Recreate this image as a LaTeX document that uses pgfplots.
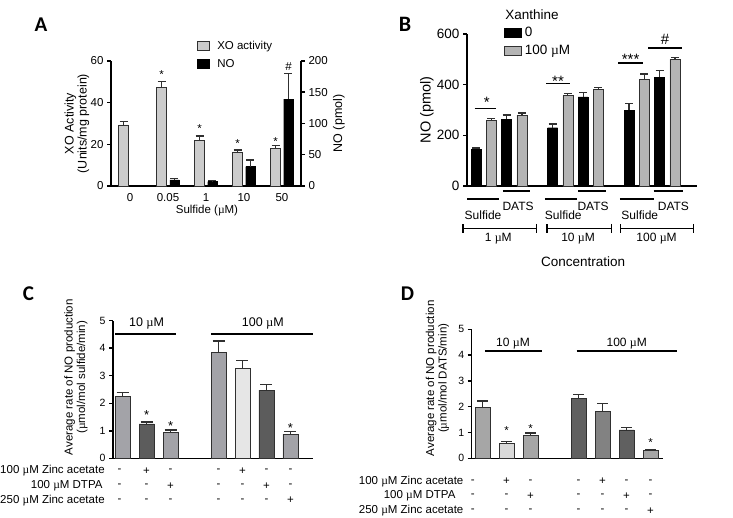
\documentclass[border=0pt]{standalone}
\usepackage{fontspec}
\setmainfont{Liberation Sans}
\usepackage{pgfplots}
\pgfplotsset{compat=1.18}
\usetikzlibrary{arrows.meta}
\newfontfamily\lett{Carlito}
\newfontfamily\muf{Liberation Serif}
\newcommand{\uM}{{\muf µ}M}
\newcommand{\sA}{\fontsize{11.5}{13}\selectfont}
\newcommand{\sB}{\fontsize{13.5}{15}\selectfont}
\newcommand{\sBs}{\fontsize{12}{14}\selectfont}
\newcommand{\sC}{\fontsize{10.5}{12}\selectfont}
\newcommand{\sCr}{\fontsize{11.5}{13}\selectfont}
\newcommand{\rl}{\fontsize{11.5}{12.5}\selectfont}
\newcommand{\rlA}{\fontsize{12.5}{13}\selectfont}
\definecolor{xog}{HTML}{CCCCCC}
\definecolor{bgr}{HTML}{B4B4B4}
\definecolor{cmed}{HTML}{A3A3A8}
\definecolor{cdark}{HTML}{5C5C5C}
\definecolor{clight}{HTML}{E6E6E6}
\definecolor{dmed}{HTML}{A6A6A6}
\definecolor{dlight}{HTML}{D9D9D9}
\definecolor{ddark}{HTML}{606060}
\definecolor{dgray}{HTML}{828282}
\definecolor{edge}{HTML}{303030}
\tikzset{st/.style={inner sep=0pt, anchor=center}, sg/.style={font=\sCr}}
\pgfplotsset{
  panel/.style={scale only axis, anchor=south west, clip=false,
    axis x line*=bottom, axis y line*=left,
    axis line style={line width=1.5pt,black,-},
    tick align=outside, major tick length=4pt,
    tick style={line width=1.5pt,black},
    major x tick style={draw=none},
    /pgf/number format/assume math mode=true},
  eb/.style={/pgfplots/error bars/y dir=plus, /pgfplots/error bars/y explicit,
    /pgfplots/error bars/error bar style={line width=1.2pt,edge},
    /pgfplots/error bars/error mark options={rotate=90,line width=1.2pt,edge,mark size=#1}},
}
\begin{document}
\begin{tikzpicture}[x=1pt,y=1pt]
\useasboundingbox (0pt,0pt) rectangle (733pt,517pt);
% ---------------- Panel letters
\node[font=\lett\bfseries\fontsize{21}{21}\selectfont] at (41pt,492pt) {A};
\node[font=\lett\bfseries\fontsize{22}{22}\selectfont] at (405pt,492.5pt) {B};
\node[font=\lett\bfseries\fontsize{21}{21}\selectfont] at (28.5pt,223pt) {C};
\node[font=\lett\bfseries\fontsize{21}{21}\selectfont] at (407.5pt,223pt) {D};

% ---------------- Panel A, left axis (XO activity)
\begin{axis}[panel, at={(111pt,331pt)}, width=190pt, height=125pt,
  xmin=-0.5, xmax=4.5, ymin=0, ymax=60, ytick={0,20,40,60},
  xtick={0,1,2,3,4}, xticklabels={0,0.05,1,10,50},
  tick label style={font=\sA},
  xlabel={Sulfide (\uM)}, xlabel style={font=\sA, at={(axis description cs:0.505,-0.2)}, anchor=center},
  ylabel={XO Activity\\(Units/mg protein)},
  ylabel style={font=\rlA, align=center, at={(axis description cs:-0.18,0.5)}, anchor=center}]
\addplot[ybar, bar width=9.5pt, fill=xog, draw=edge, line width=0.6pt, eb=4pt] coordinates {
 (-0.171,29.3) +- (0,1.5)
 (0.829,47.3) +- (0,3.0)
 (1.829,22.0) +- (0,2.0)
 (2.829,16.4) +- (0,0.9)
 (3.829,18.1) +- (0,1.3)
};
\node[st, font=\sA] at (axis cs:0.829,53.4) {*};
\node[st, font=\sA] at (axis cs:1.829,27.4) {*};
\node[st, font=\sA] at (axis cs:2.829,20.6) {*};
\node[st, font=\sA] at (axis cs:3.829,21.4) {*};
\end{axis}
% ---------------- Panel A, right axis (NO)
\begin{axis}[panel, at={(111pt,331pt)}, width=190pt, height=125pt,
  xmin=-0.5, xmax=4.5, ymin=0, ymax=200, ytick={0,50,100,150,200},
  axis x line=none, axis y line*=right,
  tick label style={font=\sA},
  ylabel={NO (pmol)},
  ylabel style={font=\rlA, at={(axis description cs:1.2,0.5)}, anchor=center},
  legend style={at={(0.45,1.177)}, anchor=north west, draw=none, fill=none,
    font=\sA, row sep=4.5pt, inner sep=0pt}, legend cell align=left]
\addlegendimage{legend image code/.code={\draw[fill=xog,draw=edge,line width=0.6pt] (0pt,-4.5pt) rectangle (12pt,4.5pt);}}
\addlegendentry{\hspace{6pt}XO activity}
\addlegendimage{legend image code/.code={\draw[fill=black,draw=black] (0pt,-4.5pt) rectangle (12pt,4.5pt);}}
\addlegendentry{\hspace{6pt}NO}
\addplot[ybar, bar width=9.5pt, fill=black, draw=black, eb=4pt, forget plot] coordinates {
 (1.171,9.6) +- (0,2.7)
 (2.171,6.9) +- (0,2.2)
 (3.171,30.9) +- (0,10.7)
 (4.171,139) +- (0,41)
};
\node[st, font=\sA] at (axis cs:4.171,191) {\#};
\end{axis}

% ---------------- Panel B
\begin{axis}[panel, at={(467pt,331pt)}, width=230pt, height=152pt,
  xmin=-0.59, xmax=14.44, ymin=0, ymax=600, ytick={0,200,400,600},
  xtick=\empty, tick label style={font=\sB},
  ylabel={NO (pmol)},
  ylabel style={font=\fontsize{14.5}{16}\selectfont, at={(axis description cs:-0.174,0.5)}, anchor=center},
  legend style={at={(0.161,1.057)}, anchor=north west, draw=none, fill=none,
    font=\sB, row sep=3pt, inner sep=0pt}, legend cell align=left]
\addlegendimage{legend image code/.code={\draw[fill=black,draw=black] (0pt,-4.5pt) rectangle (17pt,4.5pt);}}
\addlegendentry{\hspace{1pt}0}
\addlegendimage{legend image code/.code={\draw[fill=bgr,draw=edge,line width=0.6pt] (0pt,-4.5pt) rectangle (17pt,4.5pt);}}
\addlegendentry{\hspace{1pt}100 \uM}
\addplot[ybar, bar width=10pt, fill=black, draw=black, eb=4pt, forget plot] coordinates {
 (0,146) +- (0,4)
 (2,263) +- (0,17)
 (5,230) +- (0,15)
 (7,352) +- (0,16)
 (10,300) +- (0,25)
 (12,430) +- (0,25)
};
\addplot[ybar, bar width=10pt, fill=bgr, draw=edge, line width=0.6pt, eb=4pt, forget plot] coordinates {
 (1,258) +- (0,10)
 (3,280) +- (0,8)
 (6,357) +- (0,8)
 (8,380) +- (0,8)
 (11,422) +- (0,20)
 (13,500) +- (0,7)
};
\node[anchor=west, font=\sB] at (axis description cs:0.151,1.125) {Xanthine};
% significance
\draw[line width=1.5pt] (axis cs:-0.1,306) -- (axis cs:1.3,306);
\draw[line width=1.5pt] (axis cs:4.6,405) -- (axis cs:6.15,405);
\draw[line width=1.5pt] (axis cs:9.3,485) -- (axis cs:10.9,485);
\draw[line width=1.5pt] (axis cs:11.25,544) -- (axis cs:13.45,544);
\node[st, font=\fontsize{15}{16}\selectfont] at (axis cs:0.7,329) {*};
\node[st, font=\fontsize{15}{16}\selectfont] at (axis cs:5.36,415) {**};
\node[st, font=\fontsize{15}{16}\selectfont] at (axis cs:10.1,501) {***};
\node[st, font=\fontsize{15}{16}\selectfont] at (axis cs:12.35,579) {\#};
% group labels under the axis
\draw[line width=1.3pt] (axis cs:-0.59,-51.3) -- (axis cs:1.5,-51.3);
\draw[line width=1.3pt] (axis cs:4.5,-51.3) -- (axis cs:6.6,-51.3);
\draw[line width=1.3pt] (axis cs:9.4,-51.3) -- (axis cs:11.6,-51.3);
\draw[line width=1.3pt] (axis cs:1.76,-19.7) -- (axis cs:3.5,-19.7);
\draw[line width=1.3pt] (axis cs:6.67,-19.7) -- (axis cs:8.5,-19.7);
\draw[line width=1.3pt] (axis cs:11.6,-19.7) -- (axis cs:13.5,-19.7);
\node[font=\sBs] at (axis cs:0.46,-114.5) {Sulfide};
\node[font=\sBs] at (axis cs:5.7,-114.5) {Sulfide};
\node[font=\sBs] at (axis cs:10.7,-114.5) {Sulfide};
\node[font=\sBs] at (axis cs:2.75,-81.7) {DATS};
\node[font=\sBs] at (axis cs:7.65,-81.7) {DATS};
\node[font=\sBs] at (axis cs:12.9,-81.7) {DATS};
\draw[line width=1.5pt, {Bar[width=9pt]}-{Bar[width=9pt]}] (axis cs:-0.9,-167) -- (axis cs:4.0,-167);
\draw[line width=1.5pt, {Bar[width=9pt]}-{Bar[width=9pt]}] (axis cs:4.6,-167) -- (axis cs:8.9,-167);
\draw[line width=1.5pt, {Bar[width=9pt]}-{Bar[width=9pt]}] (axis cs:9.4,-167) -- (axis cs:14.25,-167);
\node[font=\sBs] at (axis cs:1.45,-209) {1 \uM};
\node[font=\sBs] at (axis cs:6.67,-209) {10 \uM};
\node[font=\sBs] at (axis cs:11.8,-209) {100 \uM};
\node[font=\sB] at (axis cs:7.0,-299) {Concentration};
\end{axis}

% ---------------- Panel C
\begin{axis}[panel, at={(113pt,58.7pt)}, width=200pt, height=137.6pt,
  xmin=-0.4, xmax=7.94, ymin=0, ymax=5, ytick={0,1,2,3,4,5},
  xtick=\empty, tick label style={font=\sC},
  ylabel={Average rate of NO production\\({\muf µ}mol/mol sulfide/min)},
  ylabel style={font=\rl, align=center, at={(axis description cs:-0.185,0.59)}, anchor=center}]
\addplot[ybar, bar width=15pt, fill=cmed, draw=edge, line width=0.7pt, eb=6pt] coordinates {
 (0,2.24) +- (0,0.14)
 (2,0.95) +- (0,0.08)
 (4,3.85) +- (0,0.41)
 (7,0.88) +- (0,0.1)
};
\addplot[ybar, bar width=15pt, fill=cdark, draw=edge, line width=0.7pt, eb=6pt] coordinates {
 (1,1.25) +- (0,0.07)
 (6,2.48) +- (0,0.21)
};
\addplot[ybar, bar width=15pt, fill=clight, draw=edge, line width=0.7pt, eb=6pt] coordinates {
 (5,3.26) +- (0,0.28)
};
\draw[line width=1.5pt] (axis cs:-0.31,4.52) -- (axis cs:2.23,4.52);
\draw[line width=1.5pt] (axis cs:3.7,4.52) -- (axis cs:7.94,4.52);
\node[font=\fontsize{12.5}{14}\selectfont] at (axis cs:1.0,4.9) {10 \uM};
\node[font=\fontsize{12.5}{14}\selectfont] at (axis cs:5.85,4.9) {100 \uM};
\node[st, font=\fontsize{13}{14}\selectfont] at (axis cs:1,1.56) {*};
\node[st, font=\fontsize{13}{14}\selectfont] at (axis cs:2,1.19) {*};
\node[st, font=\fontsize{13}{14}\selectfont] at (axis cs:7,1.11) {*};
\node[anchor=east, font=\sCr] at (axis cs:-0.6,-0.45) {100 \uM{} Zinc acetate};
\node[anchor=east, font=\sCr] at (axis cs:-0.69,-1.0) {100 \uM{} DTPA};
\node[anchor=east, font=\sCr] at (axis cs:-0.6,-1.53) {250 \uM{} Zinc acetate};
% row 1
\node[sg] at (axis cs:-0.13,-0.45) {-}; \node[sg] at (axis cs:1,-0.45) {+};
\node[sg] at (axis cs:2,-0.45) {-};    \node[sg] at (axis cs:4,-0.45) {-};
\node[sg] at (axis cs:5,-0.45) {+};    \node[sg] at (axis cs:6,-0.45) {-};
\node[sg] at (axis cs:7,-0.45) {-};
% row 2
\node[sg] at (axis cs:-0.13,-1.0) {-}; \node[sg] at (axis cs:1,-1.0) {-};
\node[sg] at (axis cs:2,-1.0) {+};    \node[sg] at (axis cs:4,-1.0) {-};
\node[sg] at (axis cs:5,-1.0) {-};    \node[sg] at (axis cs:6,-1.0) {+};
\node[sg] at (axis cs:7,-1.0) {-};
% row 3
\node[sg] at (axis cs:-0.13,-1.53) {-}; \node[sg] at (axis cs:1,-1.53) {-};
\node[sg] at (axis cs:2,-1.53) {-};    \node[sg] at (axis cs:4,-1.53) {-};
\node[sg] at (axis cs:5,-1.53) {-};    \node[sg] at (axis cs:6,-1.53) {-};
\node[sg] at (axis cs:7,-1.53) {+};
\end{axis}

% ---------------- Panel D
\begin{axis}[panel, at={(471.7pt,58.7pt)}, width=191.3pt, height=129pt,
  xmin=-0.45, xmax=7.52, ymin=0, ymax=5, ytick={0,1,2,3,4,5},
  xtick=\empty, tick label style={font=\sC},
  ylabel={Average rate of NO production\\({\muf µ}mol/mol DATS/min)},
  ylabel style={font=\rl, align=center, at={(axis description cs:-0.179,0.62)}, anchor=center}]
\addplot[ybar, bar width=15pt, fill=dmed, draw=edge, line width=0.7pt, eb=5.5pt] coordinates {
 (0,1.98) +- (0,0.24)
 (2,0.88) +- (0,0.1)
 (7,0.3) +- (0,0.05)
};
\addplot[ybar, bar width=15pt, fill=dlight, draw=edge, line width=0.7pt, eb=5.5pt] coordinates {
 (1,0.58) +- (0,0.06)
};
\addplot[ybar, bar width=15pt, fill=ddark, draw=edge, line width=0.7pt, eb=5.5pt] coordinates {
 (4,2.33) +- (0,0.14)
 (6,1.1) +- (0,0.09)
};
\addplot[ybar, bar width=15pt, fill=dgray, draw=edge, line width=0.7pt, eb=5.5pt] coordinates {
 (5,1.83) +- (0,0.29)
};
\draw[line width=1.5pt] (axis cs:0.1,4.15) -- (axis cs:2.47,4.15);
\draw[line width=1.5pt] (axis cs:3.92,4.15) -- (axis cs:8.09,4.15);
\node[font=\fontsize{12}{14}\selectfont] at (axis cs:1.27,4.46) {10 \uM};
\node[font=\fontsize{12}{14}\selectfont] at (axis cs:6.01,4.46) {100 \uM};
\node[st, font=\fontsize{11.5}{13}\selectfont] at (axis cs:1,1.08) {*};
\node[st, font=\fontsize{11.5}{13}\selectfont] at (axis cs:2,1.15) {*};
\node[st, font=\fontsize{11.5}{13}\selectfont] at (axis cs:7,0.63) {*};
\node[anchor=east, font=\sCr] at (axis cs:-0.65,-0.9) {100 \uM{} Zinc acetate};
\node[anchor=east, font=\sCr] at (axis cs:-0.98,-1.46) {100 \uM{} DTPA};
\node[anchor=east, font=\sCr] at (axis cs:-0.65,-2.04) {250 \uM{} Zinc acetate};
% row 1
\node[sg] at (axis cs:-0.4,-0.9) {-}; \node[sg] at (axis cs:1,-0.9) {+};
\node[sg] at (axis cs:2,-0.9) {-};   \node[sg] at (axis cs:4,-0.9) {-};
\node[sg] at (axis cs:5,-0.9) {+};   \node[sg] at (axis cs:6,-0.9) {-};
\node[sg] at (axis cs:7,-0.9) {-};
% row 2
\node[sg] at (axis cs:-0.4,-1.46) {-}; \node[sg] at (axis cs:1,-1.46) {-};
\node[sg] at (axis cs:2,-1.46) {+};   \node[sg] at (axis cs:4,-1.46) {-};
\node[sg] at (axis cs:5,-1.46) {-};   \node[sg] at (axis cs:6,-1.46) {+};
\node[sg] at (axis cs:7,-1.46) {-};
% row 3
\node[sg] at (axis cs:-0.4,-2.04) {-}; \node[sg] at (axis cs:1,-2.04) {-};
\node[sg] at (axis cs:2,-2.04) {-};   \node[sg] at (axis cs:4,-2.04) {-};
\node[sg] at (axis cs:5,-2.04) {-};   \node[sg] at (axis cs:6,-2.04) {-};
\node[sg] at (axis cs:7,-2.04) {+};
\end{axis}
\end{tikzpicture}
\end{document}
